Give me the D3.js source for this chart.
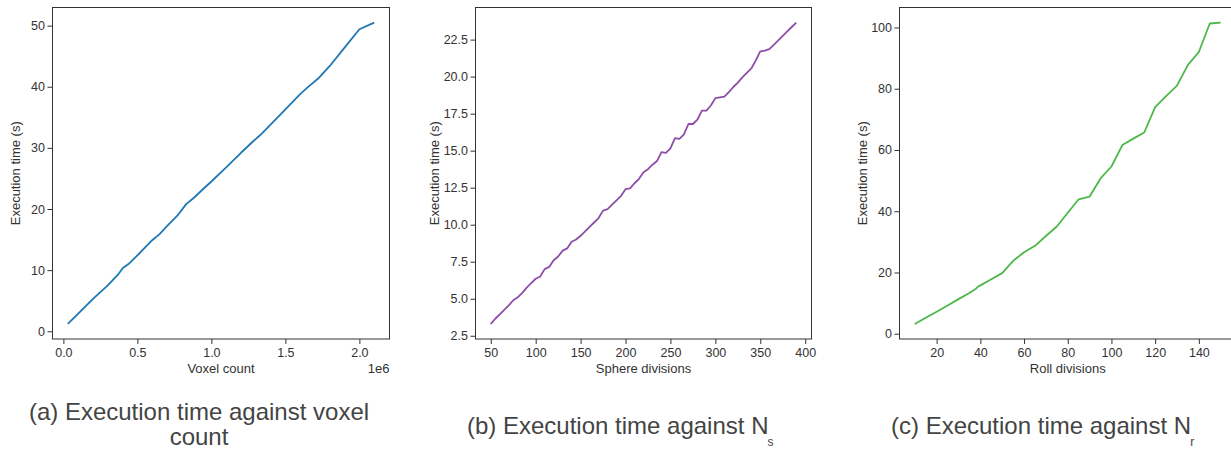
<!DOCTYPE html>
<html lang="en">
<head>
  <meta charset="UTF-8">
  <title>Execution time benchmarks</title>
  <script src="https://d3js.org/d3.v7.min.js"></script>
  <style>
    body {
      margin: 0;
      background: #fff;
      font-family: "Liberation Sans", Arial, Helvetica, sans-serif;
    }
    .tick text {
      font-size: 12.5px;
      fill: #333;
    }
    .tick line {
      stroke: #333;
    }
    .label {
      font-size: 13px;
      fill: #333;
    }
    .caption {
      font-size: 24px;
      fill: #444;
    }
  </style>
</head>
<body>
<div id="chart"></div>

<script>
  // (a) voxel count (in units of 1e6) vs execution time
  const voxelCount = [0.03, 0.1, 0.2, 0.3, 0.37, 0.4, 0.44, 0.5, 0.6, 0.65, 0.7, 0.77, 0.83, 0.88,
    0.95, 1.0, 1.1, 1.2, 1.27, 1.33, 1.4, 1.5, 1.6, 1.65, 1.72, 1.8, 1.9, 2.0, 2.1];
  const voxelTime = [1.2, 2.9, 5.3, 7.5, 9.3, 10.3, 11.0, 12.4, 14.9, 15.9, 17.2, 18.9, 20.8, 21.8,
    23.4, 24.5, 26.8, 29.2, 30.8, 32.1, 33.8, 36.3, 38.8, 39.9, 41.3, 43.4, 46.4, 49.4, 50.5];

  // (b) sphere divisions vs execution time
  const sphereDivisions = [50, 55, 60, 65, 70, 75, 80, 85, 90, 95, 100, 105, 110, 115, 120, 125, 130,
    135, 140, 145, 150, 155, 160, 165, 170, 175, 180, 185, 190, 195, 200, 205, 210, 215, 220, 225,
    230, 235, 240, 245, 250, 255, 260, 265, 270, 275, 280, 285, 290, 295, 300, 305, 310, 315, 320,
    325, 330, 335, 340, 345, 350, 355, 360, 365, 370, 375, 380, 385, 390];
  const sphereTime = [3.3, 3.65, 3.95, 4.25, 4.55, 4.9, 5.1, 5.4, 5.75, 6.05, 6.35, 6.5, 7.0, 7.15,
    7.6, 7.85, 8.25, 8.4, 8.85, 9.0, 9.25, 9.55, 9.85, 10.15, 10.45, 10.95, 11.05, 11.35, 11.65,
    11.95, 12.4, 12.45, 12.8, 13.1, 13.55, 13.75, 14.05, 14.3, 14.9, 14.85, 15.15, 15.85, 15.8,
    16.1, 16.8, 16.8, 17.1, 17.7, 17.7, 18.05, 18.55, 18.6, 18.65, 18.95, 19.3, 19.6, 19.95, 20.25,
    20.55, 21.1, 21.7, 21.75, 21.85, 22.15, 22.45, 22.75, 23.05, 23.35, 23.65];

  // (c) roll divisions vs execution time
  const rollDivisions = [10, 15, 20, 25, 30, 35, 38, 39, 40, 45, 50, 55, 60, 65, 70, 75, 80, 85, 90,
    95, 100, 105, 110, 115, 120, 125, 130, 135, 140, 145, 150];
  const rollTime = [3.2, 5.2, 7.2, 9.2, 11.3, 13.3, 14.7, 15.4, 15.8, 17.8, 19.8, 23.8, 26.6, 28.7,
    31.9, 35.0, 39.5, 43.9, 44.8, 50.7, 54.6, 61.6, 63.7, 65.7, 74.0, 77.6, 81.0, 87.8, 92.0,
    101.3, 101.6];

  const xTicksA = [0, 0.5, 1.0, 1.5, 2.0];
  const yTicksA = [0, 10, 20, 30, 40, 50];
  const xTicksB = [50, 100, 150, 200, 250, 300, 350, 400];
  const yTicksB = [2.5, 5.0, 7.5, 10.0, 12.5, 15.0, 17.5, 20.0, 22.5];
  const xTicksC = [20, 40, 60, 80, 100, 120, 140];
  const yTicksC = [0, 20, 40, 60, 80, 100];

  const width = 1231;
  const height = 450;

  const svg = d3.select("#chart").append("svg")
    .attr("width", width)
    .attr("height", height);

  // matplotlib-like 5% padding around data range
  function padded(values) {
    const [lo, hi] = d3.extent(values);
    const m = (hi - lo) * 0.05;
    return [lo - m, hi + m];
  }

  function panel(opt) {
    const g = svg.append("g");
    const x = d3.scaleLinear().domain(padded(opt.xs)).range([opt.left, opt.right]);
    const y = d3.scaleLinear().domain(padded(opt.ys)).range([opt.bottom, opt.top]);

    g.append("g")
      .attr("transform", `translate(0,${opt.bottom})`)
      .call(d3.axisBottom(x).tickValues(opt.xTicks).tickFormat(opt.xFormat)
        .tickSize(5).tickPadding(4))
      .call(a => a.select(".domain").remove());

    g.append("g")
      .attr("transform", `translate(${opt.left},0)`)
      .call(d3.axisLeft(y).tickValues(opt.yTicks).tickFormat(opt.yFormat)
        .tickSize(5).tickPadding(2.5))
      .call(a => a.select(".domain").remove());

    g.append("rect")
      .attr("x", opt.left)
      .attr("y", opt.top)
      .attr("width", opt.right - opt.left)
      .attr("height", opt.bottom - opt.top)
      .attr("fill", "none")
      .attr("stroke", "#333")
      .attr("stroke-width", 1);

    const pts = opt.xs.map((v, i) => [v, opt.ys[i]]);
    g.append("path")
      .datum(pts)
      .attr("fill", "none")
      .attr("stroke", opt.color)
      .attr("stroke-width", 1.8)
      .attr("stroke-linejoin", "round")
      .attr("d", d3.line().x(d => x(d[0])).y(d => y(d[1])));

    g.append("text")
      .attr("class", "label")
      .attr("x", (opt.left + opt.right) / 2)
      .attr("y", 373)
      .attr("text-anchor", "middle")
      .text(opt.xLabel);

    g.append("text")
      .attr("class", "label")
      .attr("transform", `translate(${opt.yLabelX},${(opt.top + opt.bottom) / 2}) rotate(-90)`)
      .attr("text-anchor", "middle")
      .text("Execution time (s)");

    return g;
  }

  const plotTop = 7.5, plotBottom = 339;

  const pa = panel({
    xs: voxelCount, ys: voxelTime, left: 52.5, right: 389.5, top: plotTop, bottom: plotBottom,
    xTicks: xTicksA, yTicks: yTicksA, xFormat: d3.format(".1f"), yFormat: d3.format("d"),
    color: "#1f77b4", xLabel: "Voxel count", yLabelX: 20
  });
  pa.append("text")
    .attr("class", "label")
    .attr("x", 389.5)
    .attr("y", 373)
    .attr("text-anchor", "end")
    .text("1e6");

  panel({
    xs: sphereDivisions, ys: sphereTime, left: 475.5, right: 811.5, top: plotTop, bottom: plotBottom,
    xTicks: xTicksB, yTicks: yTicksB, xFormat: d3.format("d"), yFormat: d3.format(".1f"),
    color: "#8e4ea8", xLabel: "Sphere divisions", yLabelX: 439
  });

  panel({
    xs: rollDivisions, ys: rollTime, left: 899.5, right: 1236, top: plotTop, bottom: plotBottom,
    xTicks: xTicksC, yTicks: yTicksC, xFormat: d3.format("d"), yFormat: d3.format("d"),
    color: "#4cb849", xLabel: "Roll divisions", yLabelX: 867
  });

  // captions
  svg.append("text").attr("class", "caption")
    .attr("x", 199).attr("y", 420).attr("text-anchor", "middle")
    .text("(a) Execution time against voxel");
  svg.append("text").attr("class", "caption")
    .attr("x", 199).attr("y", 445).attr("text-anchor", "middle")
    .text("count");

  function subCaption(x, label, sub) {
    const t = svg.append("text").attr("class", "caption")
      .attr("x", x).attr("y", 434);
    t.append("tspan").text(label);
    t.append("tspan").attr("dx", -1).attr("dy", 12).attr("font-size", 12).text(sub);
  }
  subCaption(467, "(b) Execution time against N", "s");
  subCaption(891, "(c) Execution time against N", "r");
</script>

</body>
</html>
